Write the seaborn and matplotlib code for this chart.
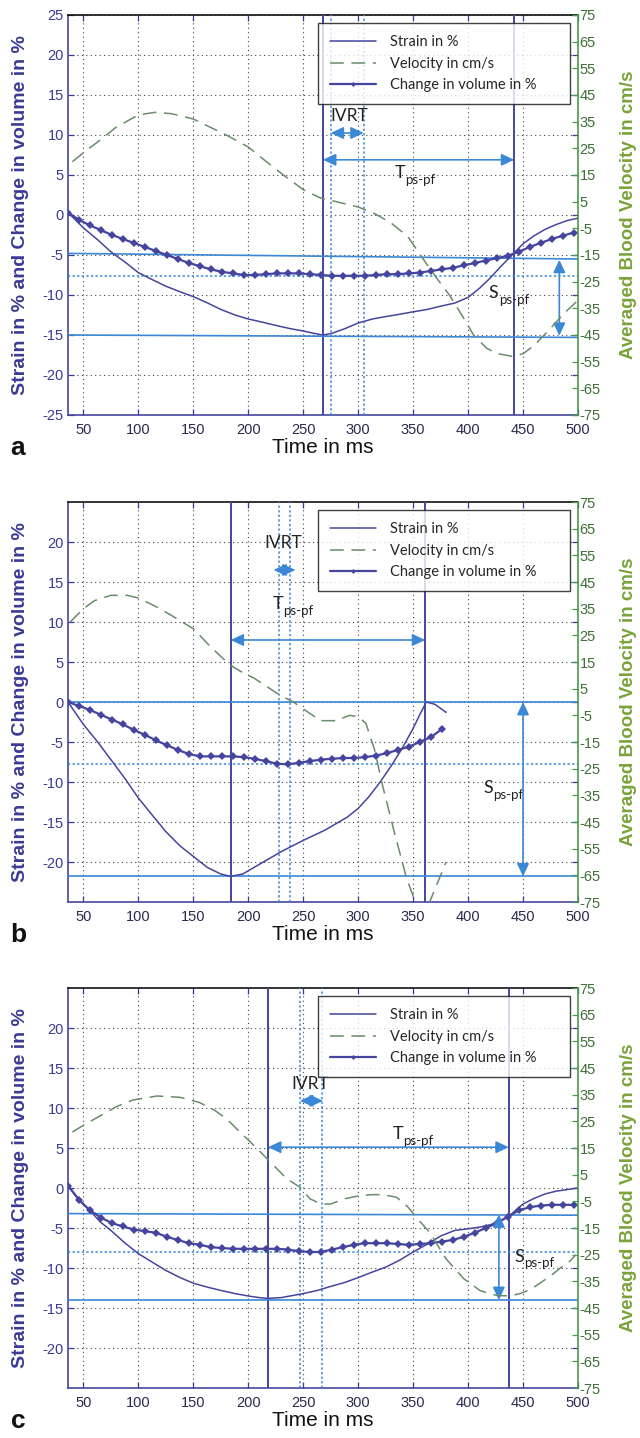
import numpy as np
import pandas as pd
import matplotlib
matplotlib.use("Agg")
import matplotlib.pyplot as plt
import seaborn as sns

sns.set_style("ticks")
plt.rcParams['font.family'] = ['Liberation Sans', 'DejaVu Sans']
plt.rcParams['axes.unicode_minus'] = False

# ---------------- data ----------------
x_ticks = [50, 100, 150, 200, 250, 300, 350, 400, 450, 500]
left_ticks_a = [-25, -20, -15, -10, -5, 0, 5, 10, 15, 20, 25]
left_ticks_bc = [-20, -15, -10, -5, 0, 5, 10, 15, 20]
right_ticks = [-75, -65, -55, -45, -35, -25, -15, -5, 5, 15, 25, 35, 45, 55, 65, 75]

# Panel a
t_strain_a = [36, 50, 63, 75, 88, 100, 113, 125, 138, 150, 163, 175, 188, 200, 213, 225, 238, 250, 260, 268,
              276, 288, 300, 313, 325, 338, 350, 363, 375, 388, 400, 410, 420, 430, 440, 450, 460, 470, 480, 490, 500]
strain_a = [0.3, -1.6, -3.1, -4.6, -5.9, -7.2, -8.1, -8.9, -9.6, -10.2, -11.0, -11.8, -12.5, -13.0, -13.4, -13.8,
            -14.2, -14.5, -14.8, -15.0, -14.8, -14.2, -13.5, -13.0, -12.7, -12.4, -12.1, -11.8, -11.4, -11.0, -10.3,
            -9.2, -7.9, -6.4, -5.0, -3.6, -2.6, -1.8, -1.2, -0.7, -0.4]
t_vol_a = [36, 46, 56, 66, 76, 86, 96, 106, 116, 126, 136, 146, 156, 166, 176, 186, 196, 206, 216, 226, 236, 246,
           256, 266, 276, 286, 296, 306, 316, 326, 336, 346, 356, 366, 376, 386, 396, 406, 416, 426, 436, 446, 456,
           466, 476, 486, 496]
vol_a = [0.3, -0.6, -1.3, -1.9, -2.5, -3.0, -3.5, -4.0, -4.5, -5.0, -5.5, -6.0, -6.4, -6.8, -7.1, -7.3, -7.5, -7.5,
         -7.4, -7.3, -7.3, -7.3, -7.4, -7.5, -7.6, -7.6, -7.6, -7.6, -7.5, -7.4, -7.4, -7.3, -7.2, -7.0, -6.8, -6.6,
         -6.3, -6.0, -5.7, -5.4, -5.1, -4.6, -4.0, -3.5, -3.0, -2.6, -2.2]
t_vel_a = [40, 52, 65, 80, 100, 115, 130, 150, 165, 180, 200, 215, 232, 250, 265, 280, 300, 315, 330, 345, 360, 372,
           383, 395, 405, 417, 427, 440, 450, 460, 475, 487, 500]
vel_a = [20, 24, 28, 33, 37.5, 38.5, 38, 36, 33, 30, 25.5, 20.5, 15, 9.5, 6.5, 5, 3, 0.5, -3, -8, -17, -24, -30, -38,
         -45, -50, -52, -53, -52, -49, -42.5, -37, -32]

# Panel b
t_strain_b = [36, 50, 63, 75, 88, 100, 113, 125, 138, 150, 163, 175, 184, 195, 210, 230, 250, 270, 290, 300, 310,
              320, 330, 340, 350, 356, 362, 370, 380]
strain_b = [0.0, -2.8, -5.0, -7.2, -9.6, -12.0, -14.2, -16.2, -18.0, -19.3, -20.7, -21.5, -21.8, -21.5, -20.3,
            -18.7, -17.3, -16.0, -14.4, -13.3, -11.8, -10.0, -8.0, -5.8, -3.3, -1.6, 0.0, -0.3, -1.3]
t_vol_b = [36, 46, 56, 66, 76, 86, 96, 106, 116, 126, 136, 146, 156, 166, 176, 186, 196, 206, 216, 226, 236, 246,
           256, 266, 276, 286, 296, 306, 316, 326, 336, 346, 356, 366, 376]
vol_b = [0.0, -0.5, -1.0, -1.6, -2.2, -2.8, -3.5, -4.1, -4.8, -5.4, -6.0, -6.5, -6.8, -6.8, -6.8, -6.8, -6.9, -7.1,
         -7.4, -7.7, -7.8, -7.6, -7.4, -7.2, -7.1, -7.0, -7.0, -6.9, -6.7, -6.4, -6.0, -5.6, -5.0, -4.4, -3.4]
t_vel_b = [38, 50, 60, 75, 90, 100, 115, 130, 150, 165, 183, 195, 205, 218, 229, 241, 255, 266, 280, 292, 300, 307,
           315, 322, 333, 344, 352, 358, 363, 368, 374, 380]
vel_b = [30, 35, 38, 40, 40, 39, 36, 32.5, 27.5, 21, 14, 11, 9, 5.5, 2.5, 0, -4, -7, -7, -5, -5.5, -8, -18, -31,
         -49, -66, -75, -79, -77, -72, -66, -60]

# Panel c
t_strain_c = [36, 47, 56, 65, 75, 88, 100, 113, 125, 138, 150, 163, 175, 188, 200, 210, 218, 230, 250, 263, 275,
              288, 300, 313, 325, 338, 350, 363, 375, 388, 400, 410, 420, 430, 440, 450, 460, 470, 480, 490, 500]
strain_c = [0.3, -1.6, -2.8, -4.2, -5.3, -6.9, -8.2, -9.3, -10.3, -11.2, -11.9, -12.4, -12.8, -13.2, -13.5, -13.7,
            -13.8, -13.7, -13.2, -12.8, -12.3, -11.8, -11.2, -10.5, -9.9, -9.0, -8.0, -7.0, -6.0, -5.3, -5.1, -4.9,
            -4.6, -4.1, -3.2, -2.0, -1.3, -0.75, -0.4, -0.2, 0.0]
t_vol_c = [36, 46, 56, 66, 76, 86, 96, 106, 116, 126, 136, 146, 156, 166, 176, 186, 196, 206, 216, 226, 236, 246,
           256, 266, 276, 286, 296, 306, 316, 326, 336, 346, 356, 366, 376, 386, 396, 406, 416, 426, 436, 446, 456,
           466, 476, 486, 496]
vol_c = [0.3, -1.5, -2.8, -3.7, -4.4, -4.8, -5.2, -5.4, -5.6, -6.1, -6.5, -6.9, -7.1, -7.4, -7.5, -7.6, -7.6, -7.6,
         -7.6, -7.6, -7.7, -7.9, -8.0, -8.0, -7.7, -7.4, -7.1, -6.9, -6.9, -6.9, -7.0, -7.1, -7.0, -6.9, -6.7, -6.5,
         -6.1, -5.6, -5.0, -4.4, -3.6, -2.8, -2.4, -2.2, -2.1, -2.1, -2.1]
t_vel_c = [40, 52, 65, 80, 95, 117, 138, 156, 170, 180, 190, 200, 210, 217, 235, 247, 256, 266, 275, 288, 300, 312,
           323, 335, 345, 355, 365, 380, 396, 411, 427, 439, 448, 457, 466, 475, 484, 493, 498]
vel_c = [21, 24, 27, 30.5, 33, 34.5, 34, 32, 29, 26, 22, 18, 14, 11, 3.5, 0.3, -4, -6, -6, -4, -3, -2.5, -2.5, -3.5,
         -7, -12, -16.6, -26.6, -34, -38.5, -40.4, -40.4, -39.5, -38, -35.5, -33, -30, -27.3, -25]

# annotation values (ms / %)
vsolid = {'a': [268, 442], 'b': [184, 361], 'c': [218, 437]}
vdotted = {'a': [275, 305], 'b': [228, 238], 'c': [247, 267]}
hsolid = {'a': [(-4.8, -5.5), (-15.0, -15.3)], 'b': [(0.0, 0.0), (-21.8, -21.8)], 'c': [(-3.2, -3.4), (-14.0, -14.0)]}
hdotted = {'a': -7.6, 'b': -7.8, 'c': -8.0}
ivrt_x = {'a': (275, 305), 'b': (223, 243), 'c': (247, 268)}
ivrt_y = {'a': 10.25, 'b': 16.5, 'c': 10.9}
ivrt_txt = {'a': (292, 12.4), 'b': (232, 19.9), 'c': (256, 13.0)}
tps_y = {'a': 6.9, 'b': 7.75, 'c': 5.1}
tps_txt = {'a': (351, 5.2), 'b': (240, 12.2), 'c': (349, 6.7)}
sps = {'a': (483, -5.6, -15.1), 'b': (450, 0.0, -21.8), 'c': (428, -3.3, -14.0)}
sps_txt = {'a': (436, -9.8), 'b': (431, -10.8), 'c': (459, -8.6)}

panels = [
    ('a', t_strain_a, strain_a, t_vol_a, vol_a, t_vel_a, vel_a, left_ticks_a),
    ('b', t_strain_b, strain_b, t_vol_b, vol_b, t_vel_b, vel_b, left_ticks_bc),
    ('c', t_strain_c, strain_c, t_vol_c, vol_c, t_vel_c, vel_c, left_ticks_bc),
]

# ---------------- style ----------------
BLUE = '#45459f'
VEL = '#6a8c6a'
ANN = '#3a88d6'
LTXT = '#3a3a96'
RTXT = '#3f6f35'
RLAB = '#7aa33a'
GRID = '#444444'
W, H = 640, 1438
tops = [15, 502, 988]
AX_L, AX_R, AX_H = 68, 578, 400
ANN_FONT = ['Lato', 'DejaVu Sans']


def sub_label(ax, x, y, main, sub):
    ax.annotate(main, xy=(x, y), xytext=(-6.5, 0), textcoords='offset points', ha='right', va='center',
                fontsize=13, family=ANN_FONT, color='#222222')
    ax.annotate(sub, xy=(x, y), xytext=(-6.5, -4.5), textcoords='offset points', ha='left', va='center',
                fontsize=9.5, family=ANN_FONT, color='#222222')


fig = plt.figure(figsize=(W / 100, H / 100), dpi=100)

for (key, ts, ss, tv, vv, tw, ww, lticks), top in zip(panels, tops):
    ax = fig.add_axes([AX_L / W, 1 - (top + AX_H) / H, (AX_R - AX_L) / W, AX_H / H])
    ax2 = ax.twinx()

    # reference lines
    for xv in vsolid[key]:
        ax.axvline(xv, color=BLUE, lw=1.4, zorder=3)
    for xv in vdotted[key]:
        ax.axvline(xv, color=ANN, lw=1.1, ls=(0, (1.5, 1.5)), zorder=3)
    for y0, y1 in hsolid[key]:
        ax.plot([36, 500], [y0, y1], color=ANN, lw=1.2, zorder=3)
    ax.axhline(hdotted[key], color=ANN, lw=1.1, ls=(0, (1.5, 1.5)), zorder=3)

    # data curves
    sns.lineplot(x=ts, y=ss, ax=ax, color=BLUE, lw=1.1, sort=False, zorder=4)
    h_strain = ax.get_lines()[-1]
    sns.lineplot(x=tv, y=vv, ax=ax, color=BLUE, lw=1.6, marker='D', markersize=3.6,
                 markeredgewidth=0, sort=False, zorder=5)
    h_vol = ax.get_lines()[-1]
    sns.lineplot(x=tw, y=ww, ax=ax2, color=VEL, lw=1.1, linestyle=(0, (9, 5)), sort=False)
    h_vel = ax2.get_lines()[-1]

    # arrows
    arw = dict(arrowstyle='<|-|>,head_length=0.7,head_width=0.33', color=ANN, lw=1.2,
               shrinkA=0, shrinkB=0, mutation_scale=11)
    x1, x2 = ivrt_x[key]
    ax.annotate('', xy=(x2, ivrt_y[key]), xytext=(x1, ivrt_y[key]), arrowprops=arw, zorder=6)
    ax.text(*ivrt_txt[key], 'IVRT', ha='center', va='center', fontsize=12.5, family=ANN_FONT, color='#222222')
    x1, x2 = vsolid[key]
    ax.annotate('', xy=(x2, tps_y[key]), xytext=(x1, tps_y[key]), arrowprops=arw, zorder=6)
    sub_label(ax, tps_txt[key][0], tps_txt[key][1], 'T', 'ps-pf')
    sx, sy0, sy1 = sps[key]
    ax.annotate('', xy=(sx, sy1), xytext=(sx, sy0), arrowprops=arw, zorder=6)
    sub_label(ax, sps_txt[key][0], sps_txt[key][1], 'S', 'ps-pf')

    # axes
    ax.set_xlim(36, 500)
    ax.set_ylim(-25, 25)
    ax2.set_ylim(-75, 75)
    ax.set_xticks(x_ticks)
    ax.set_yticks(lticks)
    ax2.set_yticks(right_ticks)
    ax.grid(True, ls=(0, (1, 3)), color=GRID, lw=0.8)
    ax.tick_params(axis='both', direction='in', length=4, width=0.9, top=True, right=True,
                   labelsize=10.5, labelcolor=LTXT, colors=LTXT, pad=3)
    ax.tick_params(axis='x', labelcolor='#2a2a50', pad=6)
    ax2.tick_params(axis='y', direction='in', length=4, width=0.9, labelsize=10.5,
                    colors='#4a9a4a', labelcolor=RTXT, pad=1)
    for s in ['left', 'bottom']:
        ax.spines[s].set_color(BLUE)
        ax.spines[s].set_linewidth(1.2)
    ax.spines['top'].set_color('#111111')
    ax.spines['top'].set_linewidth(1.2)
    ax.spines['right'].set_visible(False)
    for s in ['left', 'top', 'bottom']:
        ax2.spines[s].set_visible(False)
    ax2.spines['right'].set_color('#4a9a4a')
    ax2.spines['right'].set_linewidth(1.2)

    ax.set_xlabel('Time in ms', fontsize=15, color='#111111')
    ax.xaxis.set_label_coords(0.5, -0.058)
    ax.set_ylabel('Strain in % and Change in volume in %', fontsize=14, fontweight='bold', color=LTXT)
    ax.yaxis.set_label_coords(-0.077, 0.5)
    ax2.set_ylabel('Averaged Blood Velocity in cm/s', fontsize=13.5, fontweight='bold', color=RLAB)
    ax2.yaxis.set_label_coords(1.083, 0.5)

    leg = ax2.legend([h_strain, h_vel, h_vol], ['Strain in %', 'Velocity in cm/s', 'Change in volume in %'],
                     loc='upper left', bbox_to_anchor=(0.49, 0.98, 0.494, 0.0), mode='expand',
                     borderaxespad=0, frameon=True, fancybox=False, edgecolor='#111111',
                     handlelength=3.1, handletextpad=1.0, borderpad=0.85, labelspacing=0.5,
                     prop={'family': ANN_FONT, 'size': 10.5})
    leg.get_frame().set_linewidth(1.0)
    for lh in leg.legend_handles:
        lh.set_markersize(2.5)

    fig.text(18 / W, 1 - (top + AX_H + 33) / H, key, fontsize=19, fontweight='bold', ha='center',
             va='center', color='#111111')

fig.savefig('out.png', dpi=100)
